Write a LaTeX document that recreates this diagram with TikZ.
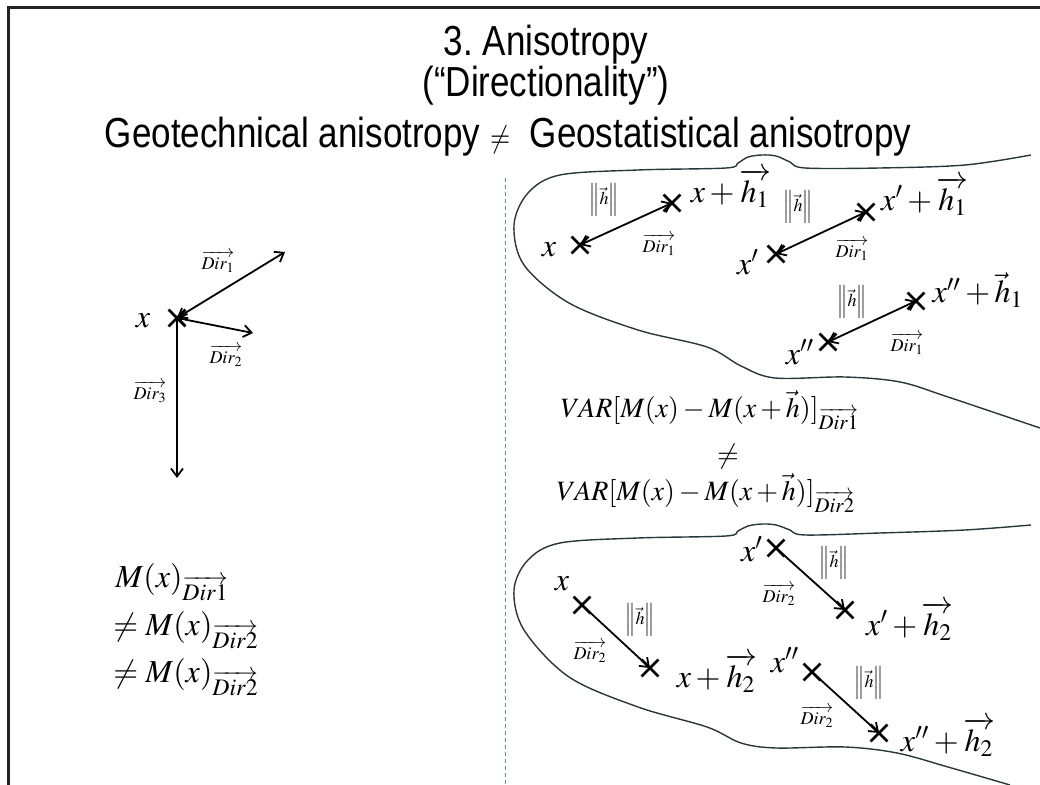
\documentclass[tikz,border=0pt]{standalone}
\usepackage{amsmath}
\usepackage{mathptmx}
\usepackage[no-math]{fontspec}
\setmainfont{Liberation Sans}
\usepackage{tikz}
\usetikzlibrary{arrows.meta,shapes.misc}
\definecolor{BordeMarco}{RGB}{35,35,35}
\definecolor{LineaBloque}{RGB}{40,55,60}
\definecolor{AzulGuia}{RGB}{70,150,225}
\newcommand{\alto}[1]{\scalebox{1}[1.2]{#1}}
\newcommand{\norma}{$\left\|\rule[-2.5pt]{0pt}{10.5pt}\vec{h}\right\|$}

\begin{document}
\begin{tikzpicture}[x=0.5pt,y=-0.5pt,>={Straight Barb[length=4pt,width=6pt]},
  titulo/.style={font=\fontsize{17.5}{20}\selectfont,inner sep=0pt},
  etiq/.style={font=\fontsize{16}{18}\selectfont,inner sep=0pt},
  formula/.style={font=\fontsize{14}{16}\selectfont,inner sep=0pt},
  peq/.style={font=\fontsize{9}{10}\selectfont,inner sep=0pt},
  cruz/.style={draw,cross out,line width=1.4pt,minimum size=7pt,inner sep=0pt},
  vec/.style={<->,line width=0.9pt},
  contorno/.style={LineaBloque,line width=0.7pt}]
  \useasboundingbox (0,0) rectangle (1040,785);
  % slide frame
  \draw[BordeMarco,line width=1.5pt] (8,785) -- (8,8) -- (1040,8);
  \node[titulo] (tit1) at (546,45) {\alto{3.\ Anisotropy}};
  \node[titulo] (tit2) at (546,86) {\alto{(“Directionality”)}};
  \node[titulo] (tit3) at (508,137) {\alto{Geotechnical anisotropy {\fontsize{13}{15}\selectfont$\neq$}\ \ Geostatistical anisotropy}};

  % left: three directions at x
  \node[cruz] (xc) at (177,318) {};
  \node[etiq] (lx) at (143,321) {$x$};
  \coordinate (d1) at (285,252);
  \coordinate (d2) at (253,333);
  \coordinate (d3) at (177,478);
  \draw[vec] (xc.center) -- (d1);
  \draw[vec] (xc.center) -- (d2);
  \draw[->,line width=0.9pt] (xc.center) -- (d3);
  \node[peq] (ld1) at (218,262) {$\overrightarrow{Dir_1}$};
  \node[peq] (ld2) at (226,356) {$\overrightarrow{Dir_2}$};
  \node[peq] (ld3) at (150,392) {$\overrightarrow{Dir_3}$};
  \node[etiq,anchor=west] (m1) at (115,582) {$M(x)_{\overrightarrow{Dir1}}$};
  \node[etiq,anchor=west] (m2) at (113,630) {$\neq M(x)_{\overrightarrow{Dir2}}$};
  \node[etiq,anchor=west] (m3) at (113,677) {$\neq M(x)_{\overrightarrow{Dir2}}$};

  \draw[AzulGuia,line width=0.5pt,dash pattern=on 2pt off 1.5pt] (505,178) -- (505,785);

  % upper domain
  \draw[contorno] plot[smooth,tension=0.55] coordinates {(1031,155) (965,165) (880,168) (805,168)
    (790,162) (776,156) (762,155) (748,157) (738,163) (726,168) (638,170) (560,175) (528,193)
    (514,225) (524,265) (569,303) (638,330) (707,347) (741,366) (775,378) (845,377) (900,382)
    (948,397) (1040,428)};
  \node[cruz] (a1) at (580,245) {};
  \node[cruz] (b1) at (672,203) {};
  \draw[vec] (a1.center) -- (b1.center);
  \node[etiq] (la1) at (549,250) {$x$};
  \node[etiq] (lb1) at (731,188) {$x+\overrightarrow{h_1}$};
  \node[peq] (n1) at (604,200) {\norma};
  \node[peq] (r1) at (659,245) {$\overrightarrow{Dir_1}$};
  \node[cruz] (a2) at (776,254) {};
  \node[cruz] (b2) at (866,212) {};
  \draw[vec] (a2.center) -- (b2.center);
  \node[etiq] (la2) at (748,262) {$x'$};
  \node[etiq] (lb2) at (925,196) {$x'+\overrightarrow{h_1}$};
  \node[peq] (n2) at (798,207) {\norma};
  \node[peq] (r2) at (852,250) {$\overrightarrow{Dir_1}$};
  \node[cruz] (a3) at (828,342) {};
  \node[cruz] (b3) at (916,301) {};
  \draw[vec] (a3.center) -- (b3.center);
  \node[etiq] (la3) at (800,352) {$x''$};
  \node[etiq] (lb3) at (978,290) {$x''+\vec{h}_1$};
  \node[peq] (n3) at (852,302) {\norma};
  \node[peq] (r3) at (907,344) {$\overrightarrow{Dir_1}$};

  % variances
  \node[formula] (v1) at (710,410) {$VAR[M(x)-M(x+\vec{h})]_{\overrightarrow{Dir1}}$};
  \node[formula] (ne) at (728,456) {$\neq$};
  \node[formula] (v2) at (706,493) {$VAR[M(x)-M(x+\vec{h})]_{\overrightarrow{Dir2}}$};

  % lower domain
  \draw[contorno] plot[smooth,tension=0.55] coordinates {(1031,525) (965,530) (880,533) (805,535)
    (790,530) (776,525) (762,524) (748,526) (738,531) (726,536) (638,538) (560,543) (528,560)
    (514,590) (524,630) (569,677) (638,707) (707,727) (741,743) (776,748) (845,747) (897,753)
    (948,767) (1010,785)};
  \node[cruz] (c1) at (582,605) {};
  \node[cruz] (e1) at (650,668) {};
  \draw[->,line width=0.9pt] (c1.center) -- (e1.center);
  \node[etiq] (lc1) at (562,584) {$x$};
  \node[etiq] (le1) at (717,673) {$x+\overrightarrow{h_2}$};
  \node[peq] (n4) at (640,620) {\norma};
  \node[peq] (r4) at (590,652) {$\overrightarrow{Dir_2}$};
  \node[cruz] (c2) at (776,548) {};
  \node[cruz] (e2) at (845,610) {};
  \draw[->,line width=0.9pt] (c2.center) -- (e2.center);
  \node[etiq] (lc2) at (752,549) {$x'$};
  \node[etiq] (le2) at (910,621) {$x'+\overrightarrow{h_2}$};
  \node[peq] (n5) at (834,563) {\norma};
  \node[peq] (r5) at (779,595) {$\overrightarrow{Dir_2}$};
  \node[cruz] (c3) at (812,672) {};
  \node[cruz] (e3) at (879,733) {};
  \draw[->,line width=0.9pt] (c3.center) -- (e3.center);
  \node[etiq] (lc3) at (785,660) {$x''$};
  \node[etiq] (le3) at (948,737) {$x''+\overrightarrow{h_2}$};
  \node[peq] (n6) at (869,683) {\norma};
  \node[peq] (r6) at (817,717) {$\overrightarrow{Dir_2}$};
\end{tikzpicture}
\end{document}
